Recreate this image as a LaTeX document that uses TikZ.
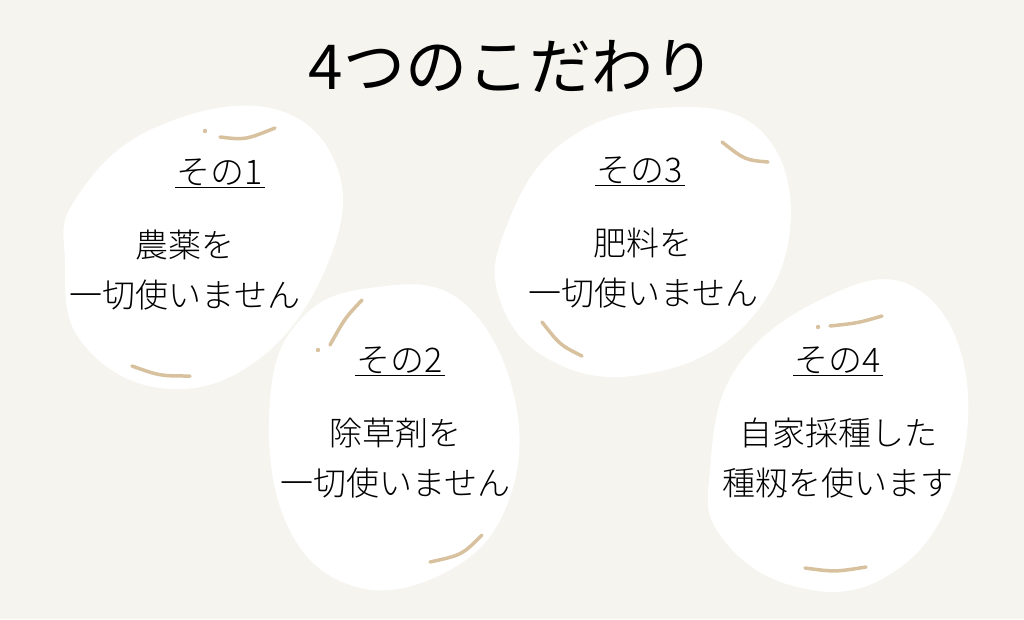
\documentclass[tikz,border=0pt]{standalone}
\usepackage{fontspec}
\newfontfamily\jp{Noto Sans CJK JP Light}
\newfontfamily\jptitle{Noto Sans CJK JP}
\definecolor{bg}{HTML}{F5F4EF}
\definecolor{tan}{HTML}{D8C19E}
\tikzset{
  blob/.style={fill=white,draw=none},
  stroke/.style={draw=tan,line width=3.5pt,line cap=round},
  heading/.style={font=\jp\fontsize{34}{36}\selectfont,inner sep=1.5pt},
  body/.style={font=\jp\fontsize{33}{50}\selectfont,align=center}
}
\begin{document}
\begin{tikzpicture}[x=1pt,y=-1pt]
\fill[bg] (0,0) rectangle (1024,619);
\useasboundingbox (0,0) rectangle (1024,619);

\node[font=\jptitle\fontsize{62}{64}\selectfont] (title) at (512,66) {4つのこだわり};

% blobs
\fill[blob] plot[smooth cycle,tension=0.7] coordinates {(75,200) (150,130) (270,108) (338,170) (325,270) (255,362) (160,388) (80,340) (65,260)};
\fill[blob] plot[smooth cycle,tension=0.7] coordinates {(270,400) (300,320) (370,288) (460,300) (515,400) (505,510) (440,575) (350,585) (285,520)};
\fill[blob] plot[smooth cycle,tension=0.7] coordinates {(505,230) (560,145) (660,108) (760,130) (790,230) (740,330) (640,375) (550,360) (500,300)};
\fill[blob] plot[smooth cycle,tension=0.7] coordinates {(710,470) (735,370) (820,300) (910,285) (965,370) (950,500) (880,580) (790,585) (720,535)};

% strokes
\draw[stroke] (220,137) .. controls (245,140) .. (275,128);
\fill[tan] (205,131) circle (2.2);
\draw[stroke] (132,366) .. controls (160,376) .. (190,376);
\draw[stroke] (330,345) .. controls (345,318) .. (362,300);
\fill[tan] (318,350) circle (2.2);
\draw[stroke] (430,562) .. controls (462,555) .. (482,535);
\draw[stroke] (722,142) .. controls (745,160) .. (768,162);
\draw[stroke] (542,322) .. controls (560,345) .. (582,356);
\draw[stroke] (830,326) .. controls (858,323) .. (882,316);
\fill[tan] (818,327) circle (2.2);
\draw[stroke] (805,568) .. controls (835,572) .. (866,567);

% texts
\foreach \nm/\x/\y/\h in {h1/220/172/その1, h2/400/360/その2, h3/640/170/その3, h4/838/360/その4}{
  \node[heading] (\nm) at (\x,\y) {\h};
  \draw[line width=1.5pt] (\nm.south west) -- (\nm.south east);
}
\node[body] (b1) at (185,270) {農薬を\\一切使いません};
\node[body] (b2) at (395,458) {除草剤を\\一切使いません};
\node[body] (b3) at (643,268) {肥料を\\一切使いません};
\node[body] (b4) at (838,458) {自家採種した\\種籾を使います};
\end{tikzpicture}
\end{document}
